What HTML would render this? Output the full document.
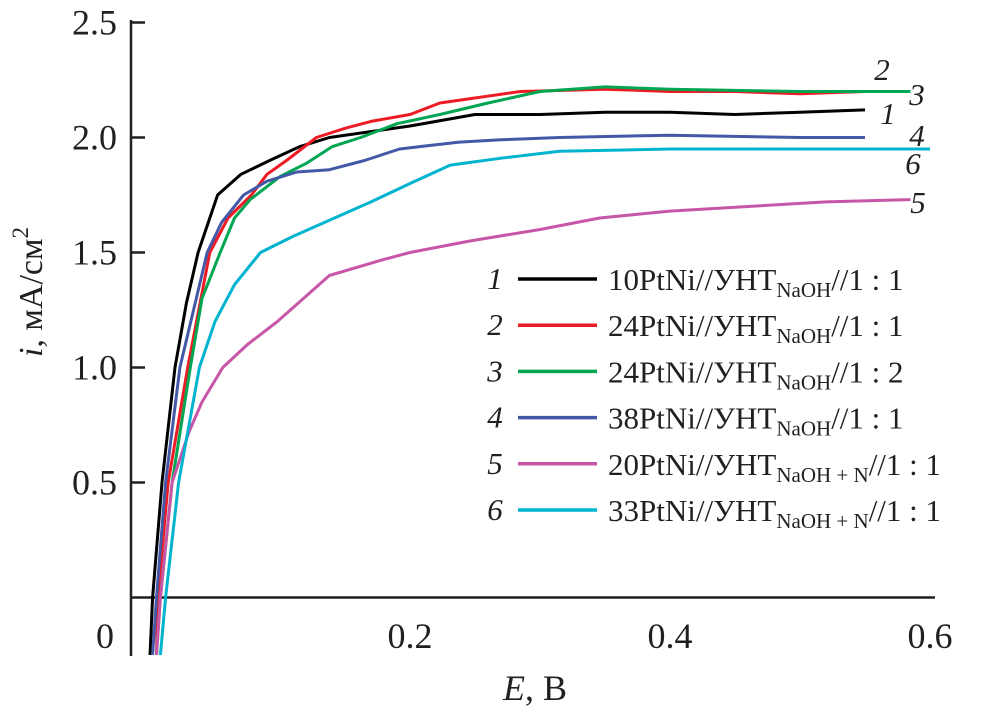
<!DOCTYPE html>
<html><head><meta charset="utf-8"><style>
body{margin:0;background:#fff}
svg text{font-family:"Liberation Serif",serif;fill:#231f20}
</style></head><body>
<svg width="985" height="714" viewBox="0 0 985 714" xmlns="http://www.w3.org/2000/svg">
<g id="axes"></g>
<g id="series"></g>
<g id="legend"></g>
<text x="42" y="292" font-size="34" text-anchor="middle" transform="rotate(-90 42 292)"><tspan font-style="italic">i</tspan>, мА/см<tspan dy="-14" font-size="23">2</tspan></text>
<text x="535" y="700" font-size="36" text-anchor="middle"><tspan font-style="italic">E</tspan>, В</text>
</svg>
<script>
const yTicks=[0.5,1.0,1.5,2.0,2.5];
const yTickLabels=["0.5","1.0","1.5","2.0","2.5"];
const xTicks=[0.2,0.4,0.6];
const xTickLabels=["0.2","0.4","0.6"];
const colors=["#000000","#ed1c24","#00a651","#4458a8","#c856a8","#00b4cf"];
const seriesNames=["1","2","3","4","5","6"];
const legendTexts=[["10PtNi//УНТ","NaOH","//1 : 1"],["24PtNi//УНТ","NaOH","//1 : 1"],["24PtNi//УНТ","NaOH","//1 : 2"],["38PtNi//УНТ","NaOH","//1 : 1"],["20PtNi//УНТ","NaOH + N","//1 : 1"],["33PtNi//УНТ","NaOH + N","//1 : 1"]];
const E1=[0.0,0.002,0.0092,0.0192,0.028,0.037,0.052,0.07,0.092,0.115,0.138,0.2,0.25,0.3,0.35,0.4,0.45,0.5,0.55];
const I1=[-0.25,0,0.5,1.0,1.28,1.5,1.75,1.84,1.9,1.96,2.0,2.05,2.1,2.1,2.11,2.11,2.1,2.11,2.12];
const E2=[0.005,0.006,0.014,0.029,0.046,0.06,0.078,0.09,0.105,0.128,0.15,0.17,0.2,0.223,0.285,0.35,0.4,0.45,0.5,0.55,0.585];
const I2=[-0.25,0,0.5,1.0,1.5,1.65,1.75,1.84,1.9,2.0,2.04,2.07,2.1,2.15,2.2,2.21,2.2,2.2,2.19,2.2,2.2];
const E3=[0.005,0.008,0.017,0.031,0.04,0.054,0.065,0.077,0.1,0.121,0.14,0.162,0.19,0.223,0.26,0.3,0.35,0.4,0.5,0.585];
const I3=[-0.25,0,0.5,1.0,1.3,1.5,1.65,1.73,1.83,1.89,1.96,2.0,2.06,2.1,2.15,2.2,2.22,2.21,2.2,2.2];
const E4=[0.002,0.005,0.012,0.023,0.044,0.055,0.072,0.09,0.113,0.138,0.165,0.192,0.215,0.238,0.27,0.315,0.4,0.5,0.55];
const I4=[-0.25,0,0.5,1.0,1.5,1.63,1.75,1.81,1.85,1.86,1.9,1.95,1.965,1.98,1.99,2.0,2.01,2.0,2.0];
const E5=[0.005,0.008,0.017,0.03,0.04,0.056,0.075,0.098,0.118,0.138,0.18,0.2,0.246,0.3,0.346,0.4,0.46,0.52,0.585];
const I5=[-0.25,0,0.5,0.72,0.85,1.0,1.1,1.2,1.3,1.4,1.47,1.5,1.55,1.6,1.65,1.68,1.7,1.72,1.73];
const E6=[0.008,0.012,0.022,0.038,0.05,0.065,0.085,0.11,0.138,0.17,0.2,0.231,0.27,0.315,0.4,0.6];
const I6=[-0.25,0,0.5,1.0,1.2,1.36,1.5,1.57,1.64,1.72,1.8,1.88,1.91,1.94,1.95,1.95];
const Es=[E1,E2,E3,E4,E5,E6], Is=[I1,I2,I3,I4,I5,I6];
const endLabels=[[888,124],[882,80],[917,105],[917,146],[918,213],[913,174]];
const NS="http://www.w3.org/2000/svg";
const X=e=>150+e*1300, Y=i=>597.5-i*230;
function mk(tag,attrs,parent,text){const el=document.createElementNS(NS,tag);for(const k in attrs)el.setAttribute(k,attrs[k]);if(text!==undefined)el.textContent=text;parent.appendChild(el);return el;}
const ax=document.getElementById('axes');
let el=mk('line',{x1:131,y1:20,x2:131,y2:656,stroke:'#231f20','stroke-width':2.5},ax);


el=mk('line',{x1:131,y1:Y(0),x2:935,y2:Y(0),stroke:'#231f20','stroke-width':2.5},ax);


yTicks.forEach((v,k)=>{
 let t=mk('line',{x1:131,y1:Y(v),x2:145,y2:Y(v),stroke:'#231f20','stroke-width':2.5},ax);
 
 
 let l=mk('text',{x:117,y:Y(v)+12,'font-size':36,'text-anchor':'end'},ax,yTickLabels[k]);
 
 
});
xTicks.forEach((v,k)=>{
 let l=mk('text',{x:X(v),y:648,'font-size':36,'text-anchor':'middle'},ax,xTickLabels[k]);
 
 
});
el=mk('text',{x:105,y:648,'font-size':36,'text-anchor':'middle'},ax,"0");


const sg=document.getElementById('series');
Es.forEach((E,s)=>{
 const pts=E.map((e,k)=>X(e).toFixed(1)+','+Y(Is[s][k]).toFixed(1)).join(' ');
 let p=mk('polyline',{points:pts,fill:'none',stroke:colors[s],'stroke-width':3,'stroke-linejoin':'round'},sg);
 
 
 let t=mk('text',{x:endLabels[s][0],y:endLabels[s][1],'font-size':31,'font-style':'italic','text-anchor':'middle'},sg,seriesNames[s]);
 
 
});
const lg=document.getElementById('legend');
legendTexts.forEach((lt,k)=>{
 const y=279+k*46.2;
 let n=mk('text',{x:495,y:y+10,'font-size':31,'font-style':'italic','text-anchor':'middle'},lg,seriesNames[k]);
 
 
 let l=mk('line',{x1:518,y1:y,x2:597,y2:y,stroke:colors[k],'stroke-width':3.5},lg);
 
 
 let t=mk('text',{x:608,y:y+11,'font-size':31},lg);
 
 
 mk('tspan',{},t,lt[0]);
 mk('tspan',{'font-size':21,dy:7},t,lt[1]);
 mk('tspan',{dy:-7},t,lt[2]);
});
</script>
</body></html>
